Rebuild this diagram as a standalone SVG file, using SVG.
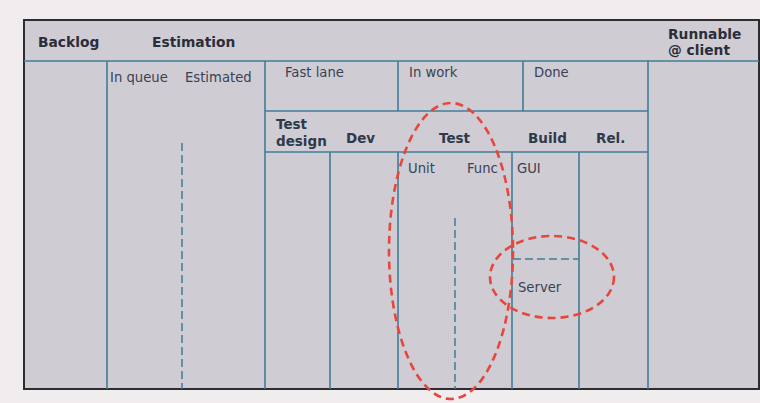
<svg xmlns="http://www.w3.org/2000/svg" width="760" height="403" viewBox="0 0 760 403">
  <style>
    .bg { fill: #f1edef; }
    .board { fill: #cfcdd3; stroke: #2e2c30; stroke-width: 2; }
    .grid { stroke: #3f7d98; stroke-width: 1.6; fill: none; }
    .split { stroke: #3f7d98; stroke-width: 1.5; stroke-dasharray: 8 4; fill: none; }
    .head { font-family: "DejaVu Sans", Verdana, sans-serif; font-weight: bold; font-size: 13.8px; fill: #2b2e3a; }
    .sub { font-family: "DejaVu Sans", Verdana, sans-serif; font-weight: bold; font-size: 13.5px; fill: #2e3a4c; }
    .lane { font-family: "DejaVu Sans", Verdana, sans-serif; font-size: 13.2px; fill: #3a4156; }
    .mark { fill: none; stroke: #e8453c; stroke-width: 2.6; stroke-dasharray: 8 5; }
  </style>

  <rect class="bg" x="0" y="0" width="760" height="403"/>

  <!-- board frame -->
  <rect id="board" class="board" x="24" y="20" width="735" height="369"/>

  <!-- column and row rules -->
  <g id="connectors">
    <line class="grid" x1="24" y1="61" x2="759" y2="61"/>
    <line class="grid" x1="107" y1="61" x2="107" y2="389"/>
    <line class="grid" x1="265" y1="61" x2="265" y2="389"/>
    <line class="grid" x1="648" y1="61" x2="648" y2="389"/>
    <line class="grid" x1="265" y1="111" x2="648" y2="111"/>
    <line class="grid" x1="265" y1="152" x2="648" y2="152"/>
    <line class="grid" x1="398" y1="61" x2="398" y2="111"/>
    <line class="grid" x1="523" y1="61" x2="523" y2="111"/>
    <line class="grid" x1="330" y1="152" x2="330" y2="389"/>
    <line class="grid" x1="398" y1="152" x2="398" y2="389"/>
    <line class="grid" x1="512" y1="152" x2="512" y2="389"/>
    <line class="grid" x1="579" y1="152" x2="579" y2="389"/>
    <line class="split" x1="182" y1="143" x2="182" y2="389"/>
    <line class="split" x1="455" y1="218" x2="455" y2="389"/>
    <line class="split" x1="513" y1="259" x2="579" y2="259"/>
  </g>

  <g id="backlog"><text class="head" x="38" y="47">Backlog</text></g>
  <g id="estimation">
    <text class="head" x="152" y="47">Estimation</text>
    <text class="lane" x="110" y="82">In queue</text>
    <text class="lane" x="185" y="82">Estimated</text>
  </g>
  <g id="fast-lane"><text class="lane" x="285" y="77">Fast lane</text></g>
  <g id="in-work"><text class="lane" x="409" y="77">In work</text></g>
  <g id="done"><text class="lane" x="534" y="77">Done</text></g>
  <g id="runnable">
    <text class="head" x="668" y="39">Runnable</text>
    <text class="head" x="668" y="55">@ client</text>
  </g>
  <g id="test-design">
    <text class="sub" x="276" y="129">Test</text>
    <text class="sub" x="276" y="146">design</text>
  </g>
  <g id="dev"><text class="sub" x="346" y="143">Dev</text></g>
  <g id="test">
    <text class="sub" x="439" y="143">Test</text>
    <text class="lane" x="408" y="173">Unit</text>
    <text class="lane" x="467" y="173">Func</text>
  </g>
  <g id="build">
    <text class="sub" x="528" y="143">Build</text>
    <text class="lane" x="517" y="173">GUI</text>
    <text class="lane" x="518" y="292">Server</text>
  </g>
  <g id="release"><text class="sub" x="596" y="143">Rel.</text></g>

  <!-- highlight rings -->
  <g id="highlights">
    <ellipse class="mark" cx="451" cy="251" rx="62" ry="148"/>
    <ellipse class="mark" cx="552" cy="277" rx="62" ry="41"/>
  </g>
</svg>
